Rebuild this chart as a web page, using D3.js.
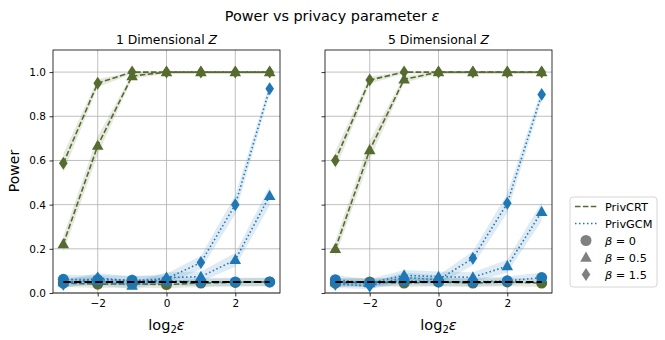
<!DOCTYPE html>
<html><head><meta charset="utf-8">
<script src="https://cdn.jsdelivr.net/npm/d3@7"></script>
<style>body{margin:0;background:#fff;} svg{font-family:"DejaVu Sans",sans-serif;}</style>
</head><body><svg id="c" width="665" height="340"></svg>
<script>
const xs = [-3, -2, -1, 0, 1, 2, 3];
const xTicks = [-2, 0, 2];
const yTicks = [0, 0.2, 0.4, 0.6, 0.8, 1.0];
const panelTitles = ["1 Dimensional ", "5 Dimensional "];
const nullLevel = 0.05;

// 1 Dimensional Z
const crt_b0_1d  = [0.045, 0.040, 0.042, 0.038, 0.045, 0.048, 0.050];
const crt_b05_1d = [0.222, 0.667, 0.982, 1.0, 1.0, 1.0, 1.0];
const crt_b15_1d = [0.587, 0.950, 1.0, 1.0, 1.0, 1.0, 1.0];
const gcm_b0_1d  = [0.062, 0.060, 0.058, 0.055, 0.050, 0.050, 0.050];
const gcm_b05_1d = [0.050, 0.055, 0.034, 0.070, 0.074, 0.150, 0.440];
const gcm_b15_1d = [0.040, 0.068, 0.055, 0.065, 0.138, 0.400, 0.925];
// 5 Dimensional Z
const crt_b0_5d  = [0.045, 0.050, 0.045, 0.050, 0.045, 0.050, 0.045];
const crt_b05_5d = [0.200, 0.647, 0.967, 1.0, 1.0, 1.0, 1.0];
const crt_b15_5d = [0.600, 0.964, 1.0, 1.0, 1.0, 1.0, 1.0];
const gcm_b0_5d  = [0.060, 0.045, 0.055, 0.050, 0.050, 0.055, 0.070];
const gcm_b05_5d = [0.050, 0.045, 0.080, 0.074, 0.071, 0.122, 0.368];
const gcm_b15_5d = [0.040, 0.032, 0.070, 0.060, 0.157, 0.406, 0.899];

const GREEN = "#556b2f", BLUE = "#1f77b4";
const panels = [
  {left: 53, right: 280, crt: [crt_b0_1d, crt_b05_1d, crt_b15_1d], gcm: [gcm_b0_1d, gcm_b05_1d, gcm_b15_1d], labels: true},
  {left: 325, right: 552, crt: [crt_b0_5d, crt_b05_5d, crt_b15_5d], gcm: [gcm_b0_5d, gcm_b05_5d, gcm_b15_5d], labels: false}
];
const plotTop = 50, plotBottom = 293;
const svg = d3.select("#c");

function markerPath(kind) {
  if (kind === 0) return d3.symbol(d3.symbolCircle, Math.PI * 5.5 * 5.5)();
  if (kind === 1) return "M0,-6L5.8,4.2L-5.8,4.2Z";
  return "M0,-6.5L4.3,0L0,6.5L-4.3,0Z";
}

const tt = svg.append("text").attr("x", 332).attr("y", 21).attr("text-anchor", "middle")
  .attr("font-size", 14.4);
tt.append("tspan").text("Power vs privacy parameter ");
tt.append("tspan").attr("font-style", "italic").text("ε");

panels.forEach((p, pi) => {
  const x = d3.scaleLinear().domain([-3.3, 3.3]).range([p.left, p.right]);
  const y = d3.scaleLinear().domain([0, 1.1]).range([plotBottom, plotTop]);
  const g = svg.append("g");
  // grid
  g.selectAll(".gx").data(xTicks).join("line").attr("x1", d => x(d)).attr("x2", d => x(d))
    .attr("y1", plotTop).attr("y2", plotBottom).attr("stroke", "#b0b0b0").attr("stroke-width", 0.8);
  g.selectAll(".gy").data(yTicks).join("line").attr("y1", d => y(d)).attr("y2", d => y(d))
    .attr("x1", p.left).attr("x2", p.right).attr("stroke", "#b0b0b0").attr("stroke-width", 0.8);

  const line = d3.line().x((d, i) => x(xs[i])).y(d => y(d));
  const hw = d => Math.max(0.008, 1.96 * Math.sqrt(d * (1 - d) / 500));
  const band = d3.area().x((d, i) => x(xs[i]))
    .y0(d => y(Math.max(0, d - hw(d))))
    .y1(d => y(Math.min(1, d + hw(d))));

  const groups = [{data: p.crt, color: GREEN, dash: "5.5,2.4"}, {data: p.gcm, color: BLUE, dash: "1.5,2.5"}];
  groups.forEach(grp => {
    grp.data.forEach((ser, k) => {
      g.append("path").attr("d", band(ser)).attr("fill", grp.color).attr("fill-opacity", 0.15);
      g.append("path").attr("d", line(ser)).attr("fill", "none").attr("stroke", grp.color)
        .attr("stroke-width", 1.6).attr("stroke-dasharray", grp.dash);
      g.selectAll(null).data(ser).join("path")
        .attr("transform", (d, i) => `translate(${x(xs[i])},${y(d)})`)
        .attr("d", markerPath(k)).attr("fill", grp.color);
    });
  });
  // null level line
  g.append("line").attr("x1", x(-3)).attr("x2", x(3)).attr("y1", y(nullLevel)).attr("y2", y(nullLevel))
    .attr("stroke", "#000").attr("stroke-width", 2).attr("stroke-dasharray", "7.4,3.2");

  // spines
  g.append("rect").attr("x", p.left).attr("y", plotTop).attr("width", p.right - p.left).attr("height", plotBottom - plotTop)
    .attr("fill", "none").attr("stroke", "#000").attr("stroke-width", 0.8);
  // axes
  const xa = d3.axisBottom(x).tickValues(xTicks).tickSize(3.5).tickPadding(3.5)
    .tickFormat(d => d < 0 ? "\u2212" + Math.abs(d) : String(d));
  const gx = g.append("g").attr("transform", `translate(0,${plotBottom})`).call(xa);
  gx.select(".domain").remove();
  gx.selectAll("text").attr("font-size", 10.5).attr("font-family", "DejaVu Sans").attr("fill", "#000");
  gx.selectAll("line").attr("stroke-width", 0.8);
  const ya = d3.axisLeft(y).tickValues(yTicks).tickSize(3.5).tickPadding(3.5)
    .tickFormat(p.labels ? d3.format(".1f") : () => "");
  const gy = g.append("g").attr("transform", `translate(${p.left},0)`).call(ya);
  gy.select(".domain").remove();
  gy.selectAll("text").attr("font-size", 10.5).attr("font-family", "DejaVu Sans").attr("fill", "#000");
  gy.selectAll("line").attr("stroke-width", 0.8);

  // subtitle
  const st = svg.append("text").attr("x", (p.left + p.right) / 2).attr("y", 43.5).attr("text-anchor", "middle")
    .attr("font-size", 12.4);
  st.append("tspan").text(panelTitles[pi]);
  st.append("tspan").attr("font-style", "italic").text("Z");
  // x label
  const xl = svg.append("text").attr("x", (p.left + p.right) / 2).attr("y", 330).attr("text-anchor", "middle")
    .attr("font-size", 14.5);
  xl.append("tspan").text("log");
  xl.append("tspan").attr("font-size", 10).attr("dy", 3).text("2");
  xl.append("tspan").attr("dy", -3).attr("font-style", "italic").text("ε");
});

svg.append("text").attr("transform", "translate(19,171) rotate(-90)").attr("text-anchor", "middle")
  .attr("font-size", 14).text("Power");

// legend
const lg = svg.append("g");
lg.append("rect").attr("x", 570).attr("y", 197).attr("width", 87).attr("height", 90).attr("rx", 3)
  .attr("fill", "#fff").attr("stroke", "#cccccc").attr("stroke-width", 0.8);
const legendItems = [
  {label: "PrivCRT", type: "line", color: GREEN, dash: "5.5,2.4"},
  {label: "PrivGCM", type: "line", color: BLUE, dash: "1.5,2.5"},
  {label: "β = 0", type: "m", k: 0},
  {label: "β = 0.5", type: "m", k: 1},
  {label: "β = 1.5", type: "m", k: 2}
];
legendItems.forEach((it, i) => {
  const yy = 206.5 + i * 17;
  if (it.type === "line") {
    lg.append("line").attr("x1", 575).attr("x2", 597).attr("y1", yy).attr("y2", yy)
      .attr("stroke", it.color).attr("stroke-width", 1.6).attr("stroke-dasharray", it.dash);
  } else {
    lg.append("path").attr("transform", `translate(586,${yy})`).attr("d", markerPath(it.k)).attr("fill", "#808080");
  }
  const t = lg.append("text").attr("x", 605).attr("y", yy + 4).attr("font-size", 11.3);
  if (it.type === "m") {
    const parts = it.label.split(" = ");
    t.append("tspan").attr("font-style", "italic").text(parts[0]);
    t.append("tspan").text(" = " + parts[1]);
  } else t.text(it.label);
});
</script></body></html>
